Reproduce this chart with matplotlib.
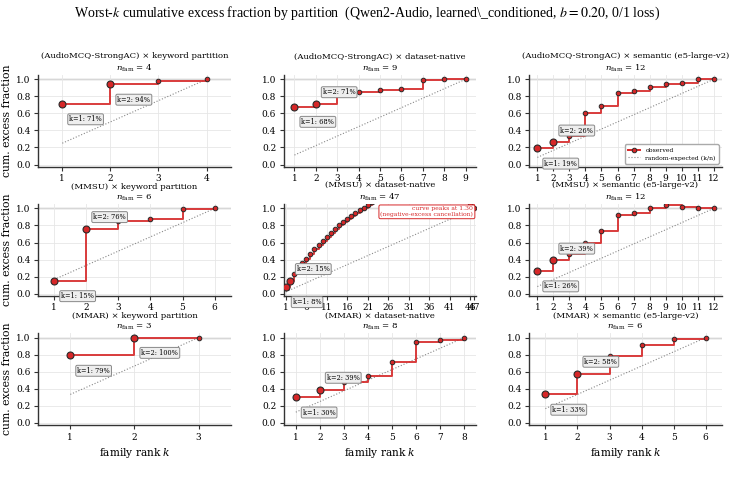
import numpy as np
import matplotlib
matplotlib.use("Agg")
import matplotlib.pyplot as plt
from matplotlib.lines import Line2D

plt.rcParams['font.family'] = ['DejaVu Serif']
plt.rcParams['mathtext.fontset'] = 'dejavuserif'

# rows = benchmark, cols = partition
benchmarks = ["AudioMCQ-StrongAC", "MMSU", "MMAR"]
partitions = ["keyword partition", "dataset-native", "semantic (e5-large-v2)"]

# cumulative excess fraction at family rank k = 1..n
audiomcq_keyword = [0.71, 0.94, 0.98, 1.0]
audiomcq_native = [0.68, 0.71, 0.845, 0.85, 0.87, 0.885, 0.99, 1.005, 1.0]
audiomcq_semantic = [0.19, 0.26, 0.335, 0.60, 0.683, 0.838, 0.865, 0.915, 0.942, 0.96, 1.004, 1.0]
mmsu_keyword = [0.15, 0.76, 0.855, 0.875, 0.995, 1.0]
mmsu_native = [0.08, 0.15, 0.23, 0.30, 0.36, 0.41, 0.47, 0.52, 0.57, 0.62,
               0.67, 0.71, 0.76, 0.80, 0.84, 0.88, 0.91, 0.95, 0.98, 1.01,
               1.04, 1.07, 1.10, 1.13, 1.16, 1.18, 1.20, 1.22, 1.24, 1.25,
               1.26, 1.27, 1.28, 1.29, 1.295, 1.30, 1.30, 1.29, 1.28, 1.26,
               1.24, 1.21, 1.18, 1.14, 1.10, 1.04, 1.0]
mmsu_semantic = [0.265, 0.39, 0.465, 0.59, 0.735, 0.926, 0.945, 1.01, 1.04, 1.02, 1.01, 1.0]
mmar_keyword = [0.79, 1.0, 1.0]
mmar_native = [0.30, 0.39, 0.475, 0.545, 0.71, 0.946, 0.977, 1.0]
mmar_semantic = [0.333, 0.578, 0.78, 0.915, 0.98, 1.0]

grid_data = [
    [audiomcq_keyword, audiomcq_native, audiomcq_semantic],
    [mmsu_keyword, mmsu_native, mmsu_semantic],
    [mmar_keyword, mmar_native, mmar_semantic],
]

RED = '#d62728'

fig, axes = plt.subplots(3, 3, figsize=(7.35, 4.78), dpi=100)
fig.subplots_adjust(left=0.052, right=0.982, bottom=0.111, top=0.843,
                    wspace=0.276, hspace=0.41)

for r in range(3):
    for c in range(3):
        ax = axes[r, c]
        vals = np.array(grid_data[r][c])
        n = len(vals)
        k = np.arange(1, n + 1)

        ax.grid(True, color='#e6e6e6', linewidth=0.6, zorder=0)
        ax.axhline(1.0, color='#8c8c8c', linewidth=0.9, zorder=1)

        # random-expected diagonal
        ax.plot(k, k / n, linestyle=':', color='#888888', linewidth=0.8, zorder=2)
        # observed curve
        ax.plot(k, vals, drawstyle='steps-post', color=RED, linewidth=1.4,
                alpha=0.9, zorder=3)
        ax.plot(k, vals, linestyle='none', marker='o', markersize=3.3,
                markerfacecolor=RED, markeredgecolor='#2a2a2a',
                markeredgewidth=0.7, zorder=4)
        ax.plot(k[:2], vals[:2], linestyle='none', marker='o', markersize=5,
                markerfacecolor=RED, markeredgecolor='#2a2a2a',
                markeredgewidth=0.8, zorder=5)

        # k=1, k=2 labels
        for i in range(2):
            y = vals[i]
            if i == 0 or y > 0.85:
                off = (5, -11)
            else:
                off = (5, 8.5)
            ax.annotate(f"k={i + 1}: {y * 100:.0f}%", xy=(k[i], y),
                        xytext=off, textcoords='offset points',
                        ha='left', va='center', fontsize=4.8, zorder=6,
                        bbox=dict(boxstyle='round,pad=0.22', fc='#eeeeee',
                                  ec='#888888', lw=0.7))

        if vals.max() > 1.05:
            ax.text(0.985, 0.975,
                    f"curve peaks at {vals.max():.2f}\n(negative-excess cancellation)",
                    transform=ax.transAxes, ha='right', va='top', fontsize=4.4,
                    color=RED, linespacing=1.1, zorder=7,
                    bbox=dict(boxstyle='round,pad=0.25', fc='white',
                              ec=RED, lw=0.7))

        if n <= 12:
            ticks = list(k)
        else:
            ticks = list(range(1, n + 1, 5))
            if ticks[-1] != n:
                ticks.append(n)
        ax.set_xticks(ticks)
        ax.set_xlim(0.5, n + 0.5)
        ax.set_ylim(-0.025, 1.05)
        ax.set_yticks([0.0, 0.2, 0.4, 0.6, 0.8, 1.0])
        ax.tick_params(labelsize=6.5, length=3, width=0.8, color='#333333', pad=2.5)

        for s in ['top', 'right']:
            ax.spines[s].set_visible(False)
        for s in ['left', 'bottom']:
            ax.spines[s].set_color('#333333')
            ax.spines[s].set_linewidth(1.0)

        ax.set_title(f"({benchmarks[r]}) \u00d7 {partitions[c]}\n"
                     + r"$n_{\mathrm{fam}}$" + f" = {n}",
                     fontsize=6.1, pad=3, linespacing=1.35)

        if c == 0:
            ax.set_ylabel("cum. excess fraction", fontsize=7.8, labelpad=3)
        if r == 2:
            ax.set_xlabel("family rank $k$", fontsize=7.6, labelpad=3)

        if r == 0 and c == 2:
            h_obs = Line2D([], [], color=RED, linewidth=1.4, marker='o',
                           markersize=3.3, markerfacecolor=RED,
                           markeredgecolor='#2a2a2a', markeredgewidth=0.7)
            h_rand = Line2D([], [], linestyle=':', color='#888888', linewidth=0.8)
            ax.legend([h_obs, h_rand], ['observed', 'random-expected (k/n)'],
                      loc='lower right', fontsize=4.4, framealpha=1,
                      edgecolor='#aaaaaa', handlelength=2.0, borderpad=0.5,
                      labelspacing=0.4)

fig.suptitle("Worst-$k$ cumulative excess fraction by partition  "
             "(Qwen2-Audio, learned\\_conditioned, $b = 0.20$, 0/1 loss)",
             fontsize=10, y=0.99, family='Liberation Serif',
             math_fontfamily='stix')

plt.savefig("out.png", dpi=100)
